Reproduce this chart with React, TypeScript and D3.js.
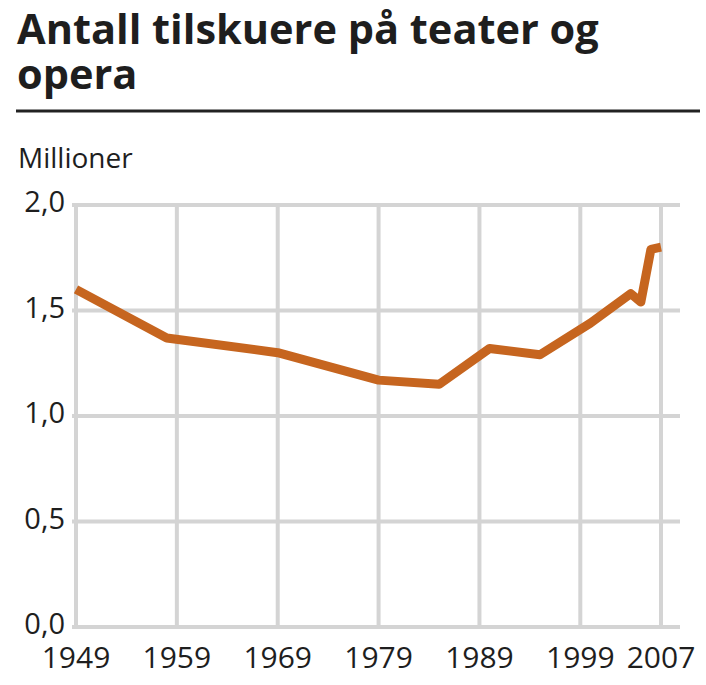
import React from "react";
import * as d3 from "d3";

const titleLines = ["Antall tilskuere på teater og", "opera"];
const unitLabel = "Millioner";
const years = [1949, 1958, 1969, 1979, 1985, 1990, 1995, 2000, 2004, 2005, 2006, 2007];
const values = [1.6, 1.37, 1.3, 1.17, 1.15, 1.32, 1.29, 1.44, 1.58, 1.54, 1.79, 1.8];
const xTicks = [1949, 1959, 1969, 1979, 1989, 1999, 2007];
const yTicks = [0, 0.5, 1.0, 1.5, 2.0];

const W = 706;
const H = 685;
const FONT = "'Open Sans', 'Noto Sans', sans-serif";

export default function App() {
  const x = d3.scaleLinear().domain([1949, 2007]).range([76, 661]);
  const y = d3.scaleLinear().domain([0, 2]).range([627, 205]);
  const fmt = (v: number) => d3.format(".1f")(v).replace(".", ",");
  const data = years.map((yr, i) => ({ yr, v: values[i] }));
  const line = d3
    .line<{ yr: number; v: number }>()
    .x((d) => x(d.yr))
    .y((d) => y(d.v));
  const gridColor = "#d4d4d4";
  const [x0, x1] = [72, 680];
  return (
    <svg
      width={W}
      height={H}
      style={{ position: "absolute", left: 0, top: 0, background: "#fff" }}
      fontFamily={FONT}
    >
      <rect width={W} height={H} fill="#fff" />
      <text fontSize={41.5} fontWeight={700} fill="#1e1e1e">
        {titleLines.map((t, i) => (
          <tspan key={i} x={17} y={44 + i * 45}>
            {t}
          </tspan>
        ))}
      </text>
      <line x1={16} x2={700} y1={111} y2={111} stroke="#222" strokeWidth={3} />
      <text x={18} y={168} fontSize={28} fill="#1e1e1e">
        {unitLabel}
      </text>
      {yTicks.map((t) => (
        <g key={"y" + t}>
          <line x1={x0} x2={x1} y1={y(t)} y2={y(t)} stroke={gridColor} strokeWidth={4} />
          <text x={65} y={y(t) + 7} fontSize={29} textAnchor="end" fill="#1e1e1e">
            {fmt(t)}
          </text>
        </g>
      ))}
      {xTicks.map((t) => (
        <g key={"x" + t}>
          <line x1={x(t)} x2={x(t)} y1={y(2) - 2} y2={y(0)} stroke={gridColor} strokeWidth={4} />
          <text x={x(t)} y={668} fontSize={30} textAnchor="middle" fill="#1e1e1e">
            {t}
          </text>
        </g>
      ))}
      <path
        d={line(data) || ""}
        fill="none"
        stroke="#c6651f"
        strokeWidth={9}
        strokeLinejoin="round"
        strokeLinecap="butt"
      />
    </svg>
  );
}
